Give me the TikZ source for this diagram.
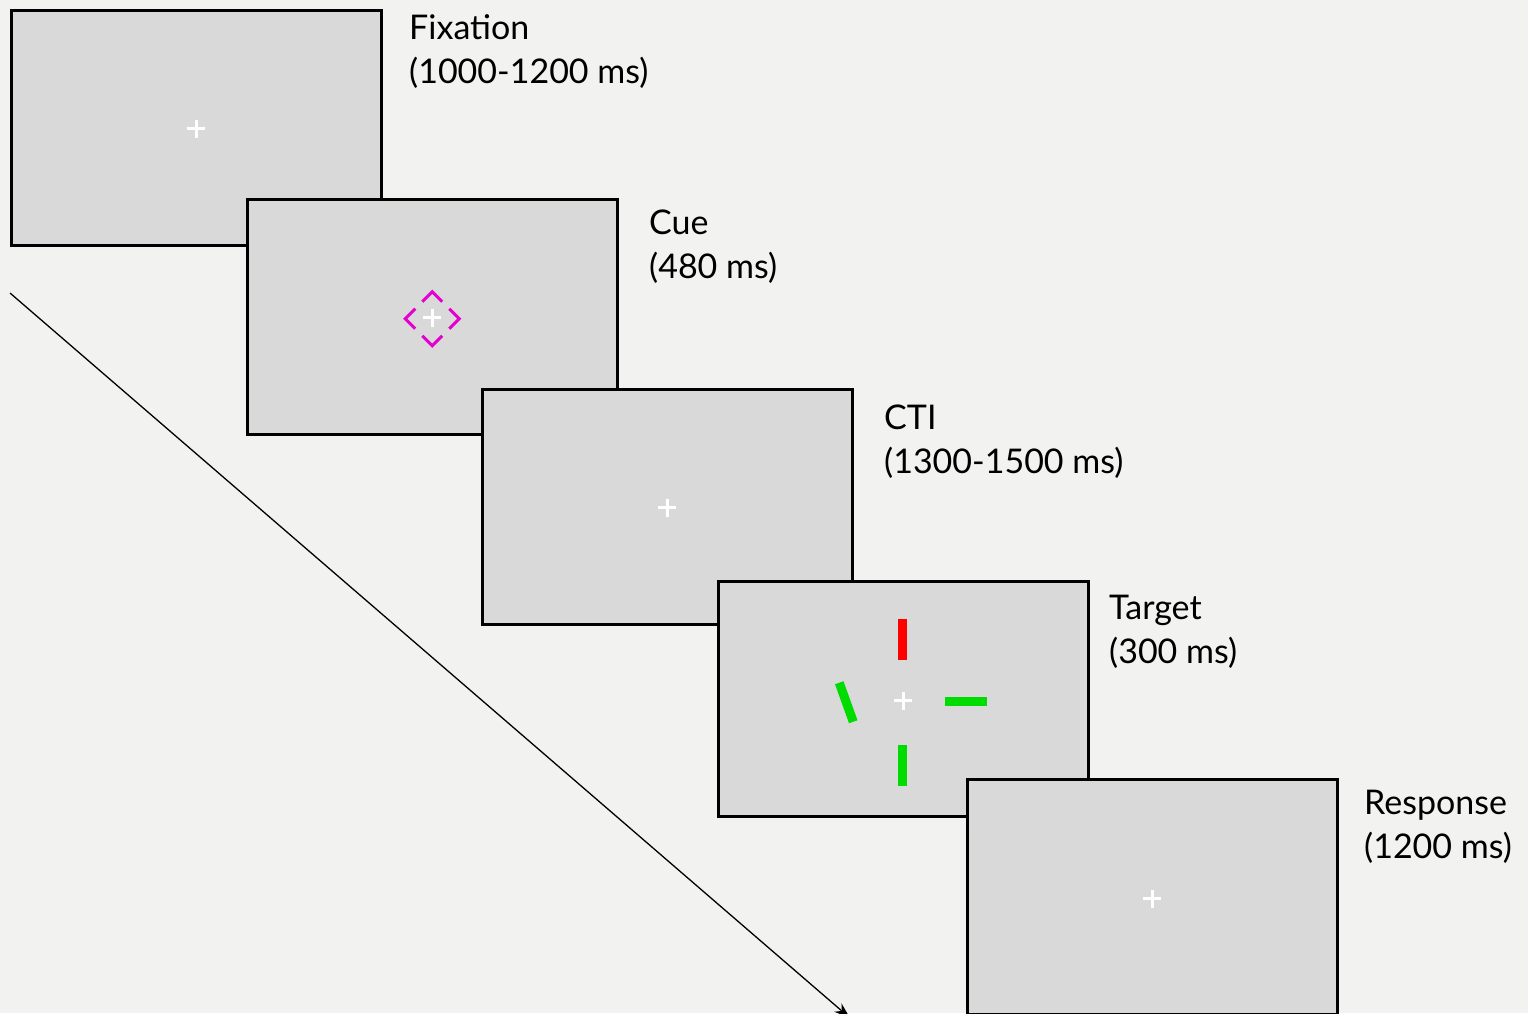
\documentclass[tikz,border=0pt]{standalone}
\usepackage{fontspec}
\setmainfont{Lato}
\usetikzlibrary{arrows.meta}
\definecolor{bg}{RGB}{242,242,240}
\definecolor{boxgray}{RGB}{217,217,217}
\definecolor{cuemag}{RGB}{228,0,208}
\definecolor{tgreen}{RGB}{0,220,0}
\definecolor{tred}{RGB}{255,0,0}
\begin{document}
\begin{tikzpicture}[x=1pt,y=-1pt,
  screen/.style={draw=black, line width=2.5pt, fill=boxgray, minimum width=370pt, minimum height=235pt, inner sep=0pt, anchor=north west},
  lbl/.style={anchor=base west, align=left, inner sep=0pt, font=\fontsize{34}{44}\selectfont},
  fixcross/.style={draw=white, line width=2.8pt},
  bar/.style={line width=9pt, line cap=butt}]
\fill[bg] (0,0) rectangle (1528,1013);
\useasboundingbox (0,0) rectangle (1528,1013);
\clip (0,0) rectangle (1528,1013);

\coordinate (tstart) at (10,293);
\coordinate (tend) at (850,1018);
\draw[line width=1.3pt, -{Stealth[length=16pt,width=11pt]}] (tstart) -- (tend);

\node[screen] (b1) at (10,9) {};
\node[screen] (b2) at (246,198) {};
\node[screen] (b3) at (481,388) {};
\node[screen] (b4) at (717,580) {};
\node[screen] (b5) at (966,778) {};

\foreach \b/\dy in {b1/1,b2/1,b3/1,b4/2,b5/2}{
  \draw[fixcross] ([shift={(-9,\dy)}]\b.center) -- ++(18,0);
  \draw[fixcross] ([shift={(0,\dy-9)}]\b.center) -- ++(0,18);
}

% cue diamond
\coordinate (cc) at ([shift={(0,2)}]b2.center);
\draw[cuemag, line width=3pt, dash pattern=on 28.2pt off 10pt, dash phase=33.2pt]
  ([shift={(-13.5,-13.5)}]cc) -- ([shift={(0,-27)}]cc) -- ([shift={(27,0)}]cc)
  -- ([shift={(0,27)}]cc) -- ([shift={(-27,0)}]cc) -- cycle;

% target bars
\coordinate (tc) at ([shift={(-1,1)}]b4.center);
\draw[bar, tred] ([shift={(0,-81)}]tc) -- ([shift={(0,-40)}]tc);
\draw[bar, tgreen] ([shift={(0,45)}]tc) -- ([shift={(0,86)}]tc);
\draw[bar, tgreen] ([shift={(43,2)}]tc) -- ([shift={(85,2)}]tc);
\draw[bar, tgreen] ([shift={(-63,-17)}]tc) -- ([shift={(-49,22)}]tc);

\node[lbl] (l1) at (409,83) {Fixation\\(1000-1200 ms)};
\node[lbl] (l2) at (649,278) {Cue\\(480 ms)};
\node[lbl] (l3) at (884,473) {CTI\\(1300-1500 ms)};
\node[lbl] (l4) at (1109,663) {Target\\(300 ms)};
\node[lbl] (l5) at (1364,858) {Response\\(1200 ms)};
\end{tikzpicture}
\end{document}
